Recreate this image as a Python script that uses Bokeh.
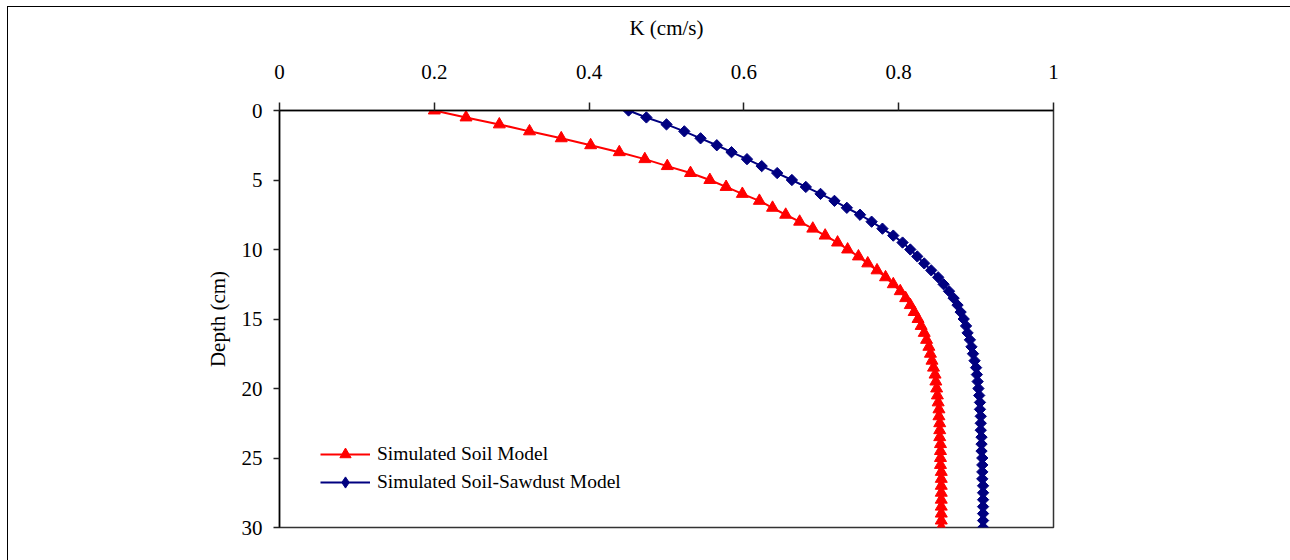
from bokeh.plotting import figure
from bokeh.models import (Range1d, FixedTicker, Legend, LegendItem,
                          ColumnDataSource, InlineStyleSheet)
from bokeh.embed import file_html
from bokeh.resources import INLINE
import math

depth = [i * 0.5 for i in range(61)]

k_soil = [0.200, 0.241, 0.284, 0.323, 0.364, 0.402, 0.439, 0.472, 0.501, 0.531,
          0.556, 0.577, 0.598, 0.620, 0.637, 0.654, 0.672, 0.689, 0.705, 0.721,
          0.734, 0.748, 0.760, 0.772, 0.783, 0.793, 0.802, 0.809, 0.815, 0.820,
          0.825, 0.829, 0.833, 0.836, 0.839, 0.841, 0.843, 0.845, 0.847, 0.848,
          0.849, 0.850, 0.851, 0.852, 0.852, 0.853, 0.853, 0.853, 0.854, 0.854,
          0.854, 0.854, 0.855, 0.855, 0.855, 0.855, 0.855, 0.855, 0.855, 0.855,
          0.855]

k_sawdust = [0.451, 0.474, 0.500, 0.523, 0.544, 0.565, 0.584, 0.604, 0.623, 0.643,
             0.662, 0.680, 0.699, 0.717, 0.733, 0.750, 0.765, 0.779, 0.793, 0.805,
             0.815, 0.824, 0.833, 0.842, 0.851, 0.858, 0.865, 0.871, 0.876, 0.880,
             0.884, 0.887, 0.889, 0.892, 0.894, 0.896, 0.898, 0.900, 0.901, 0.902,
             0.903, 0.904, 0.905, 0.905, 0.906, 0.906, 0.906, 0.907, 0.907, 0.907,
             0.908, 0.908, 0.908, 0.908, 0.909, 0.909, 0.909, 0.909, 0.909, 0.909,
             0.909]

x_ticks = [0, 0.2, 0.4, 0.6, 0.8, 1]
x_tick_labels = ["0", "0.2", "0.4", "0.6", "0.8", "1"]
y_ticks = [0, 5, 10, 15, 20, 25, 30]

series_names = ["Simulated Soil Model", "Simulated Soil-Sawdust Model"]

FONT = "Liberation Serif"

src_soil = ColumnDataSource(dict(k=k_soil, d=depth))
src_saw = ColumnDataSource(dict(k=k_sawdust, d=depth,
                                ang=[math.pi / 4] * len(depth)))

css = InlineStyleSheet(css="""
:host { position: relative; overflow: hidden; }
:host::after {
  content: '';
  position: absolute;
  left: 7px; top: 6px;
  width: 1400px; height: 700px;
  border: 1.5px solid black;
  box-sizing: border-box;
  pointer-events: none;
}
""")

p = figure(width=1290, height=560, output_backend="svg", toolbar_location=None,
           x_range=Range1d(0, 1), y_range=Range1d(30, 0),
           x_axis_location="above",
           min_border_left=279, min_border_right=237,
           min_border_top=110, min_border_bottom=33,
           stylesheets=[css])
# a range that maps the data outside the frame, used only for the legend key
p.extra_y_ranges = {"legend_key": Range1d(1000, 2000)}
p.xgrid.visible = False
p.ygrid.visible = False
p.outline_line_color = "#333333"
p.outline_line_width = 1.5
p.background_fill_color = "white"
p.border_fill_color = "white"

xa = p.xaxis[0]
xa.ticker = FixedTicker(ticks=x_ticks)
xa.major_label_overrides = {t: s for t, s in zip(x_ticks, x_tick_labels)}
xa.minor_tick_line_color = None
xa.major_tick_in = 0
xa.major_tick_out = 8
xa.major_label_standoff = 24
xa.axis_label = "K (cm/s)"
xa.axis_label_standoff = 22
xa.axis_label_text_font = FONT
xa.axis_label_text_font_style = "normal"
xa.axis_label_text_font_size = "21px"
xa.major_label_text_font = FONT
xa.major_label_text_font_size = "21px"
xa.axis_line_color = "black"
xa.axis_line_width = 1.5
xa.major_tick_line_color = "#222222"
xa.major_tick_line_width = 1.5
xa.major_label_text_color = "black"
xa.axis_label_text_color = "black"

ya = p.yaxis[0]
ya.ticker = FixedTicker(ticks=y_ticks)
ya.minor_tick_line_color = None
ya.major_tick_in = 0
ya.major_tick_out = 6
ya.major_label_standoff = 11
ya.axis_label = "Depth (cm)"
ya.axis_label_standoff = 9
ya.axis_label_text_font = FONT
ya.axis_label_text_font_style = "normal"
ya.axis_label_text_font_size = "21px"
ya.major_label_text_font = FONT
ya.major_label_text_font_size = "21px"
ya.axis_line_color = "black"
ya.axis_line_width = 1.5
ya.major_tick_line_color = "#222222"
ya.major_tick_line_width = 1.5
ya.major_label_text_color = "black"
ya.axis_label_text_color = "black"

l1 = p.line("k", "d", source=src_soil, line_color="#FF0000", line_width=2)
m1 = p.scatter("k", "d", source=src_soil, marker="triangle", size=12,
               fill_color="#FF0000", line_color="#FF0000")
l2 = p.line("k", "d", source=src_saw, line_color="#000080", line_width=2)
m2 = p.scatter("k", "d", source=src_saw, marker="square", size=8, angle="ang",
               fill_color="#000080", line_color="#000080")
m2_key = p.scatter("k", "d", source=src_saw, marker="diamond",
                   y_range_name="legend_key",
                   fill_color="#000080", line_color="#000080")

legend = Legend(items=[LegendItem(label=series_names[0], renderers=[l1, m1]),
                       LegendItem(label=series_names[1], renderers=[l2, m2_key])],
                location=(41, 31), padding=0, margin=0, spacing=0,
                glyph_width=50, glyph_height=28, label_height=28,
                label_standoff=7, border_line_color=None,
                background_fill_alpha=0,
                label_text_font=FONT, label_text_font_size="19.5px",
                label_text_color="black")
p.add_layout(legend)

open("out.html", "w").write(file_html(p, INLINE))
